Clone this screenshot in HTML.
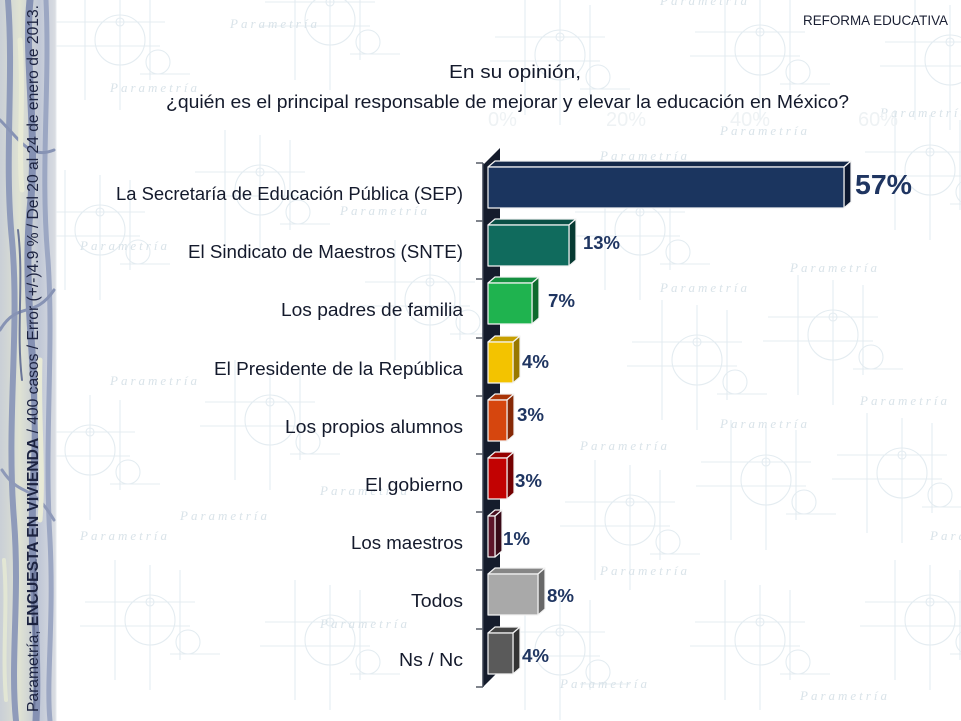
<!DOCTYPE html>
<html>
<head>
<meta charset="utf-8">
<style>
html,body{margin:0;padding:0;background:#fff;}
svg{display:block;}
.cat{font-family:"Liberation Sans",sans-serif;font-size:18.5px;fill:#141a2c;}
.val{font-family:"Liberation Sans",sans-serif;font-weight:bold;font-size:18px;fill:#1f3561;}
.wm{font-family:"Liberation Serif",serif;font-style:italic;font-size:13px;fill:#d9e3e9;letter-spacing:3px;}
</style>
</head>
<body>
<svg width="961" height="721" viewBox="0 0 961 721" xmlns="http://www.w3.org/2000/svg">
<defs>
  <g id="motif" fill="none" stroke="#dbe6ec" stroke-width="1.1">
    <line x1="-65" y1="-18" x2="45" y2="-18"/>
    <line x1="-70" y1="6" x2="40" y2="6"/>
    <line x1="-35" y1="-60" x2="-35" y2="60"/>
    <line x1="0" y1="-55" x2="0" y2="70"/>
    <line x1="30" y1="-50" x2="30" y2="40"/>
    <circle cx="0" cy="0" r="25"/>
    <circle cx="0" cy="-18" r="4"/>
    <circle cx="38" cy="22" r="12"/>
    <line x1="20" y1="34" x2="70" y2="34"/>
  </g>
  <linearGradient id="strip" x1="0" y1="0" x2="1" y2="0">
    <stop offset="0" stop-color="#c9cfd6"/>
    <stop offset="0.35" stop-color="#dfe2d3"/>
    <stop offset="0.7" stop-color="#c0c7d6"/>
    <stop offset="1" stop-color="#dadde2"/>
  </linearGradient>
</defs>

<rect x="0" y="0" width="961" height="721" fill="#ffffff"/>

<g opacity="0.75">
  <use href="#motif" x="120" y="40"/>
  <use href="#motif" x="330" y="20"/>
  <use href="#motif" x="560" y="55"/>
  <use href="#motif" x="760" y="50"/>
  <use href="#motif" x="950" y="60"/>
  <use href="#motif" x="100" y="230"/>
  <use href="#motif" x="260" y="190"/>
  <use href="#motif" x="430" y="300"/>
  <use href="#motif" x="697" y="360"/>
  <use href="#motif" x="833" y="335"/>
  <use href="#motif" x="930" y="170"/>
  <use href="#motif" x="640" y="230"/>
  <use href="#motif" x="90" y="450"/>
  <use href="#motif" x="270" y="420"/>
  <use href="#motif" x="902" y="473"/>
  <use href="#motif" x="766" y="480"/>
  <use href="#motif" x="630" y="520"/>
  <use href="#motif" x="150" y="620"/>
  <use href="#motif" x="330" y="640"/>
  <use href="#motif" x="560" y="650"/>
  <use href="#motif" x="760" y="640"/>
  <use href="#motif" x="930" y="620"/>
</g>
<g class="wm">
  <text x="230" y="28">Parametría</text>
  <text x="660" y="5">Parametría</text>
  <text x="110" y="92">Parametría</text>
  <text x="880" y="117">Parametría</text>
  <text x="720" y="135">Parametría</text>
  <text x="600" y="160">Parametría</text>
  <text x="340" y="215">Parametría</text>
  <text x="80" y="250">Parametría</text>
  <text x="790" y="272">Parametría</text>
  <text x="660" y="292">Parametría</text>
  <text x="860" y="405">Parametría</text>
  <text x="720" y="428">Parametría</text>
  <text x="580" y="450">Parametría</text>
  <text x="110" y="385">Parametría</text>
  <text x="180" y="520">Parametría</text>
  <text x="320" y="495">Parametría</text>
  <text x="80" y="540">Parametría</text>
  <text x="600" y="575">Parametría</text>
  <text x="320" y="628">Parametría</text>
  <text x="560" y="688">Parametría</text>
  <text x="800" y="700">Parametría</text>
  <text x="930" y="540">Parametría</text>
</g>
<g font-family="Liberation Sans,sans-serif" font-size="20" fill="#eef2f4">
  <text x="488" y="126">0%</text>
  <text x="606" y="126">20%</text>
  <text x="730" y="126">40%</text>
  <text x="858" y="126">60%</text>
</g>

<rect x="0" y="0" width="56" height="721" fill="url(#strip)"/>
<g fill="none" stroke-linecap="round">
  <path d="M8 0 C14 80 4 160 12 240 C20 330 6 420 14 520 C20 600 10 660 16 721" stroke="#8f9bba" stroke-width="6"/>
  <path d="M30 0 C24 60 38 130 30 210 C22 300 40 380 34 470 C28 560 40 640 36 721" stroke="#8591b3" stroke-width="7"/>
  <path d="M46 0 C50 90 40 170 48 260 C54 350 44 440 50 540 C54 620 46 680 50 721" stroke="#9ca7c3" stroke-width="5"/>
  <path d="M0 120 C20 140 30 160 54 150" stroke="#8793b4" stroke-width="3"/>
  <path d="M0 330 C18 300 34 320 54 290" stroke="#8793b4" stroke-width="3"/>
  <path d="M2 470 C22 500 30 480 54 520" stroke="#8e99b8" stroke-width="3"/>
  <path d="M20 40 C24 100 18 150 22 190" stroke="#e8ead6" stroke-width="5"/>
  <path d="M40 360 C38 420 44 470 40 520" stroke="#e8ead6" stroke-width="5"/>
  <path d="M4 560 C8 610 2 650 6 700" stroke="#e2e6d4" stroke-width="4"/>
  <path d="M18 230 C24 280 16 330 22 380" stroke="#6a7598" stroke-width="2"/>
  <path d="M36 560 C30 610 38 660 34 710" stroke="#6a7598" stroke-width="2"/>
</g>
<line x1="56" y1="0" x2="56" y2="721" stroke="#e6eaee" stroke-width="1"/>

<text transform="translate(38,712) rotate(-90)" font-family="Liberation Sans,sans-serif" font-size="16" fill="#1c2340" textLength="707" lengthAdjust="spacingAndGlyphs">Parametría; <tspan font-weight="bold">ENCUESTA EN VIVIENDA</tspan> / 400 casos / Error (+/-)4.9 % / Del 20 al 24 de enero de 2013.</text>

<text x="803" y="25" font-family="Liberation Sans,sans-serif" font-size="14" fill="#1a1f33" textLength="145" lengthAdjust="spacingAndGlyphs">REFORMA EDUCATIVA</text>
<text x="449" y="78" font-family="Liberation Sans,sans-serif" font-size="18.5" fill="#141a2c" textLength="132" lengthAdjust="spacingAndGlyphs">En su opinión,</text>
<text x="166" y="108" font-family="Liberation Sans,sans-serif" font-size="18.5" fill="#141a2c" textLength="683" lengthAdjust="spacingAndGlyphs">¿quién es el principal responsable de mejorar y elevar la educación en México?</text>

<polygon points="483,165 500,148 500,670 483,687" fill="#151c2c"/>
<line x1="483" y1="163" x2="483" y2="687" stroke="#3a4150" stroke-width="1.5"/>
<g stroke="#555a66" stroke-width="1.5">
  <line x1="476" y1="163" x2="483" y2="163"/>
  <line x1="476" y1="221" x2="483" y2="221"/>
  <line x1="476" y1="279" x2="483" y2="279"/>
  <line x1="476" y1="338" x2="483" y2="338"/>
  <line x1="476" y1="396" x2="483" y2="396"/>
  <line x1="476" y1="454" x2="483" y2="454"/>
  <line x1="476" y1="512" x2="483" y2="512"/>
  <line x1="476" y1="570" x2="483" y2="570"/>
  <line x1="476" y1="629" x2="483" y2="629"/>
  <line x1="476" y1="687" x2="483" y2="687"/>
</g>

<g stroke="#f4f4f4" stroke-width="1.2" stroke-linejoin="round">
  <polygon points="488,167 495,161 851,161 844,167" fill="#142848"/>
  <polygon points="844,167 851,161 851,202 844,208" fill="#0c1830"/>
  <rect x="488" y="167" width="356" height="41" fill="#1b355f"/>
  <polygon points="488,225 495,219 576,219 569,225" fill="#0b5046"/>
  <polygon points="569,225 576,219 576,260 569,266" fill="#073a32"/>
  <rect x="488" y="225" width="81" height="41" fill="#106b5d"/>
  <polygon points="488,283 495,277 539,277 532,283" fill="#149040"/>
  <polygon points="532,283 539,277 539,318 532,324" fill="#0d6a2c"/>
  <rect x="488" y="283" width="44" height="41" fill="#1fb34f"/>
  <polygon points="488,342 495,336 520,336 513,342" fill="#c79f00"/>
  <polygon points="513,342 520,336 520,377 513,383" fill="#987800"/>
  <rect x="488" y="342" width="25" height="41" fill="#f3c300"/>
  <polygon points="488,400 495,394 514,394 507,400" fill="#a93407"/>
  <polygon points="507,400 514,394 514,435 507,441" fill="#862906"/>
  <rect x="488" y="400" width="19" height="41" fill="#d6460e"/>
  <polygon points="488,458 495,452 514,452 507,458" fill="#960000"/>
  <polygon points="507,458 514,452 514,493 507,499" fill="#740000"/>
  <rect x="488" y="458" width="19" height="41" fill="#c20202"/>
  <polygon points="488,516 495,510 502,510 495,516" fill="#4a1020"/>
  <polygon points="495,516 502,510 502,551 495,557" fill="#380a17"/>
  <rect x="488" y="516" width="7" height="41" fill="#5e1529"/>
  <polygon points="488,574 495,568 545,568 538,574" fill="#868686"/>
  <polygon points="538,574 545,568 545,609 538,615" fill="#686868"/>
  <rect x="488" y="574" width="50" height="41" fill="#a9a9a9"/>
  <polygon points="488,633 495,627 520,627 513,633" fill="#444444"/>
  <polygon points="513,633 520,627 520,668 513,674" fill="#333333"/>
  <rect x="488" y="633" width="25" height="41" fill="#5a5a5a"/>
</g>

<text class="val" x="855" y="194" style="font-size:28px" textLength="57" lengthAdjust="spacingAndGlyphs">57%</text>
<text class="val" x="583" y="249" textLength="37" lengthAdjust="spacingAndGlyphs">13%</text>
<text class="val" x="548" y="307" textLength="27" lengthAdjust="spacingAndGlyphs">7%</text>
<text class="val" x="522" y="368" textLength="27" lengthAdjust="spacingAndGlyphs">4%</text>
<text class="val" x="517" y="421" textLength="27" lengthAdjust="spacingAndGlyphs">3%</text>
<text class="val" x="515" y="487" textLength="27" lengthAdjust="spacingAndGlyphs">3%</text>
<text class="val" x="503" y="545" textLength="27" lengthAdjust="spacingAndGlyphs">1%</text>
<text class="val" x="547" y="602" textLength="27" lengthAdjust="spacingAndGlyphs">8%</text>
<text class="val" x="522" y="662" textLength="27" lengthAdjust="spacingAndGlyphs">4%</text>

<g text-anchor="end">
  <text class="cat" x="463" y="200" textLength="347" lengthAdjust="spacingAndGlyphs">La Secretaría de Educación Pública (SEP)</text>
  <text class="cat" x="463" y="258" textLength="275" lengthAdjust="spacingAndGlyphs">El Sindicato de Maestros (SNTE)</text>
  <text class="cat" x="463" y="316" textLength="182" lengthAdjust="spacingAndGlyphs">Los padres de familia</text>
  <text class="cat" x="463" y="375" textLength="249" lengthAdjust="spacingAndGlyphs">El Presidente de la República</text>
  <text class="cat" x="463" y="433" textLength="178" lengthAdjust="spacingAndGlyphs">Los propios alumnos</text>
  <text class="cat" x="463" y="491" textLength="98" lengthAdjust="spacingAndGlyphs">El gobierno</text>
  <text class="cat" x="463" y="549" textLength="112" lengthAdjust="spacingAndGlyphs">Los maestros</text>
  <text class="cat" x="463" y="607" textLength="52" lengthAdjust="spacingAndGlyphs">Todos</text>
  <text class="cat" x="463" y="666" textLength="64" lengthAdjust="spacingAndGlyphs">Ns / Nc</text>
</g>
</svg>
</body>
</html>
